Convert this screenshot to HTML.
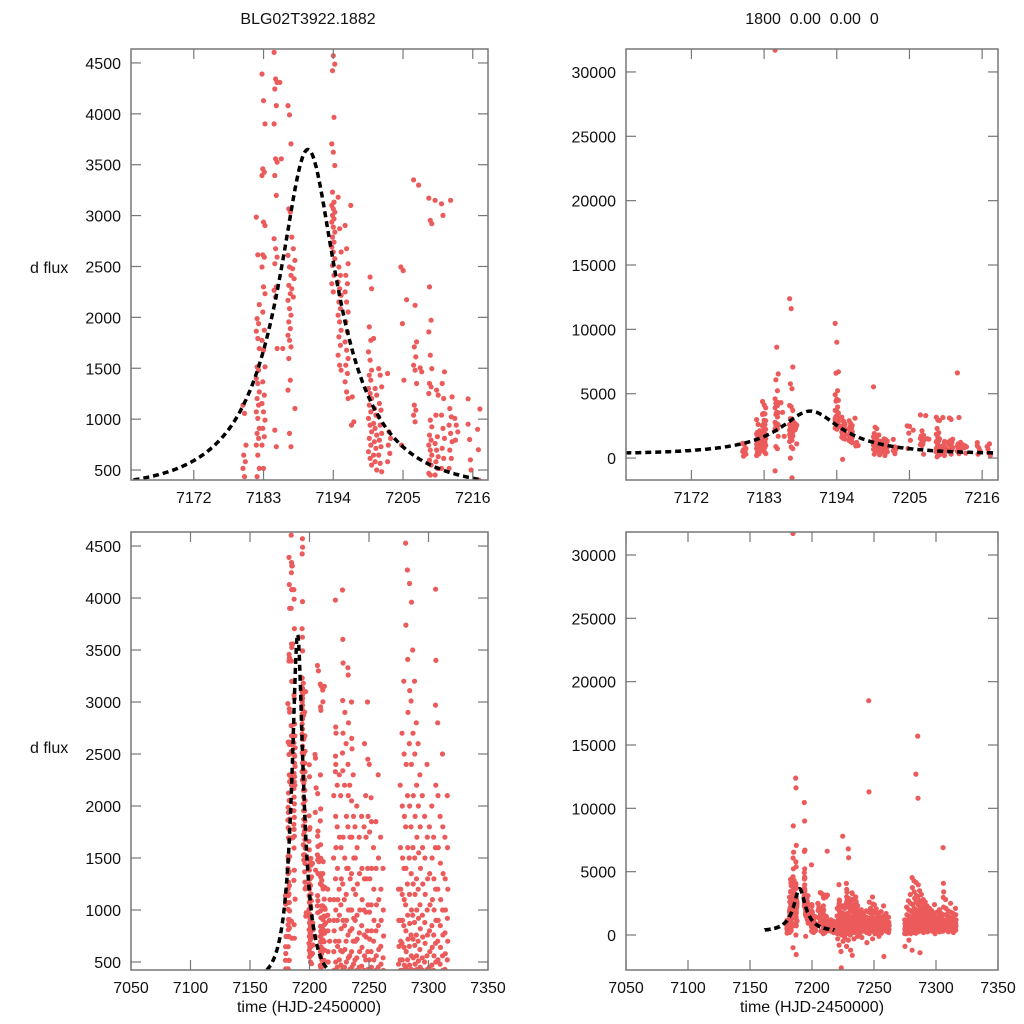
<!DOCTYPE html>
<html><head><meta charset="utf-8"><style>
html,body{margin:0;padding:0;background:#fff;width:1024px;height:1024px;overflow:hidden;}
svg{display:block;font-family:"Liberation Sans",sans-serif;}
</style></head><body>
<svg id="chart" width="1024" height="1024" viewBox="0 0 1024 1024"></svg>
<script>
// ---- data ----
const nightTimes = [
7180.0,7182.1,7183.0,7184.9,7185.8,7187.1,7187.7,7194.0,7195.0,7196.1,7197.0,7199.8,7200.6,7201.4,7202.8,7204.9,7205.8,7206.9,7207.7,7209.3,7210.3,7211.3,7212.5,7213.4,7215.5,7217.0,
7220.5,7222,7223.5,7225,7226.5,7228,7229.5,7231,7232.5,7234,7235.5,7237,7238.5,7240,7242,7244,7246,7247.5,7249,7250.5,7252,7254,7256,7258,7260,7262,
7275,7276.5,7278,7279.5,7281,7282.5,7284,7285.5,7287,7288.5,7290,7291.5,7293,7295,7297,7299,7301,7303,7304.5,7306,7308,7310,7312,7314,7316];
const nightFluxes = [
[1138,1056,745,647,582,516,435,300,150],
[2985,2615,2125,1988,1939,1864,1792,1694,1514,1481,1399,1350,1268,1203,1138,1072,1007,909,860,811,745,647,516,435,320,200],
[4391,4129,3901,3459,3427,3394,2936,2903,2615,2592,2495,2299,2233,2053,1874,1775,1677,1514,1367,1236,1154,1072,991,909,827,745,516,350],
[31700,8615,6538,6077,5230,4604,4342,4309,4244,4081,3901,3558,3525,3394,3198,2773,2675,2592,2527,2299,2266,2200,1694,892,729,-1000],
[4309,3558,1694],
[12385,11615,7077,5770,5385,4081,3989,3705,3067,3034,2609,2495,2413,2315,2233,2168,2086,2021,1955,1890,1824,1775,1710,1596,1383,1285,860,729,0,-1540],
[2789,2675,2560,2478,2380,2282,2200,1105],
[10460,9000,6700,6600,5230,4920,4571,4489,4424,3966,3705,3623,3492,3231,3133,3100,3067,3034,3002,2969,2936,2887,2838,2789,2740,2691,2642,2576,2511,2413,2331,2250],
[3181,2871,2642,2495,2413,2348,2282,2217,2151,2086,2021,1955,1873,1808,1726,1628,1530,1481,-100],
[2903,2675,2527,2413,2331,2250,2151,2053,1955,1857,1759,1677,1596,1530,1448,1367,1268,1203],
[3100,1219,974,941],
[5540,2397,2282,1906,1775,1661,1579,1481,1432,1383,1301,1252,1203,1138,1072,1007,941,876,811,745,680,614,549,300],
[1792,1301,1236,1105,1040,958,909,843,778,713,647,582,500,250],
[1497,1432,1318,1154,1089,1023,941,860,794,729,647,565,484,200],
[1448,876,811,745,663,582,350],
[2495,1939,1383,745,2460],
[2174],
[3351,2119,1759,1710,1612,1530,1481,1350,1138,1089,1040,974,300],
[3300,1504,1465],
[3172,2953,2920,2299,1972,1857,1628,1497,1350,1318,1252,991,925,843,794,745,696,647,598,549,467,451,250,100],
[3150,1285,1236,1040,827,761,696,631,582,516,451,200],
[3116,3002,1465,1350,1203,1040,909,811,713,614,516,300],
[6615,3150,1219,1105,1023,941,860,778,696,614,516,350],
[1007,941,876,794,380],
[1200,800,500,300,600,950],
[900,400,200,700,1100],
[1500,1100,800,600,420,300,100,-300,2100,900],
[3980,2760,2700,2480,2400,2330,1900,1600,1300,1000,700,500,200,-800],
[1800,1400,1100,900,650,450,300,0,-1300,-2600,2200],
[7800,2300,1700,1200,950,700,520,400,150,-500],
[2100,1600,1300,1050,820,610,470,250,-200],
[4077,3602,3375,3015,2700,2510,2340,1700,1250,900,600,430,100,-900],
[6800,6100,2900,2200,1500,1100,850,620,450,200,-400],
[2600,1900,1400,1150,900,700,500,350,0,-1200],
[3330,3260,2800,2400,2100,1800,1400,1000,760,540,410,-1600],
[2200,1700,1300,1000,800,560,430,200,-300],
[3000,2650,2550,2050,1700,1350,1000,820,600,450,250],
[2300,1900,1500,1200,920,700,480,300,-100],
[1800,1500,1150,900,700,520,410,150],
[2000,1600,1250,950,720,540,420,-200],
[1700,1350,1000,780,600,450,300],
[1900,1400,1100,850,640,460,200,-600],
[18500,11300,2600,1800,1300,1000,760,560,420,100],
[2100,1700,1300,980,740,520,300],
[3000,2450,1900,1400,1050,800,600,430,-300],
[2400,1750,1300,980,720,520,410,100],
[2080,1850,1400,1050,800,600,450,250],
[1600,1200,900,700,520,410,-100],
[1850,1400,1050,800,560,420,150],
[2300,1500,1100,850,620,450,-1700],
[1700,1200,900,650,480,300],
[1400,1000,750,540,420,200],
[1200,900,650,480,300,100,-900],
[2200,1600,1200,900,700,520,420,300,100],
[2700,2000,1500,1150,900,680,520,420,250,-400],
[3200,2500,1900,1400,1100,850,640,470,350,100],
[4528,3740,2400,1800,1400,1050,800,600,450,200,-1200],
[4270,3410,2900,2100,1600,1250,950,720,520,420,300],
[12700,4140,3110,2600,2000,1500,1150,870,650,470,150],
[15700,10800,3960,3010,2400,1800,1350,1000,760,560,430,250],
[3500,2700,2100,1600,1250,950,720,540,420,-1400],
[3200,2500,1900,1500,1150,880,660,480,300],
[2800,2200,1700,1300,1000,760,560,430,200],
[2600,2000,1550,1200,920,700,510,400],
[2300,1800,1400,1050,820,620,450,250],
[2100,1600,1250,950,740,540,420],
[1900,1500,1150,880,680,500,300],
[2400,1700,1300,1000,760,560,430,100],
[1800,1350,1050,800,600,450],
[2000,1500,1100,850,640,470,250],
[1700,1300,1000,760,560,420],
[6900,4085,3400,2970,2200,1600,1200,900,680,500,300],
[2800,2100,1600,1200,900,700,520,400],
[1900,1450,1100,850,640,480,250],
[2500,1800,1350,1000,760,560,420],
[1700,1300,1000,780,580,430,200],
[2100,1600,1200,920,700,520,380],
[1850,1400,1050,800,600,450,300],
[1500,1150,880,660,480,250]
];
const fitT0 = 7190.0, fitU0 = 0.3, fitTE = 15.0, fitFs = 1370, fitBase = 300;
const fitRange = [7162, 7218];
const xTicksZoom = [7172,7183,7194,7205,7216];
const xTicksFull = [7050,7100,7150,7200,7250,7300,7350];
const yTicksSmall = [500,1000,1500,2000,2500,3000,3500,4000,4500];
const yTicksBig = [0,5000,10000,15000,20000,25000,30000];

// ---- panel setup ----
const NS = "http://www.w3.org/2000/svg";
const svg = document.getElementById("chart");
function mk(tag, attrs, parent){const e=document.createElementNS(NS,tag);for(const k in attrs)e.setAttribute(k,attrs[k]);(parent||svg).appendChild(e);return e;}

const panels = [
 {id:"top-left", x0:131,x1:488,y0:49,y1:480, xd:[7162.1,7218.4], yd:[402,4637], xt:xTicksZoom, yt:yTicksSmall},
 {id:"top-right", x0:626,x1:998,y0:49,y1:480, xd:[7162.1,7218.4], yd:[-1705,31783], xt:xTicksZoom, yt:yTicksBig},
 {id:"bottom-left", x0:131,x1:488,y0:532,y1:970, xd:[7050,7350], yd:[423,4635], xt:xTicksFull, yt:yTicksSmall},
 {id:"bottom-right", x0:626,x1:998,y0:532,y1:970, xd:[7050,7350], yd:[-2763,31815], xt:xTicksFull, yt:yTicksBig}
];

function magnification(t){
  const tau=(t-fitT0)/fitTE; const u=Math.sqrt(fitU0*fitU0+tau*tau);
  return (u*u+2)/(u*Math.sqrt(u*u+4));
}

panels.forEach((p,pi)=>{
  const sx=v=>p.x0+(v-p.xd[0])/(p.xd[1]-p.xd[0])*(p.x1-p.x0);
  const sy=v=>p.y1-(v-p.yd[0])/(p.yd[1]-p.yd[0])*(p.y1-p.y0);
  const g=mk("g",{});
  
  
  const defs=mk("defs",{},g);
  const cp=mk("clipPath",{id:"clip"+pi},defs);
  mk("rect",{x:p.x0,y:p.y0,width:p.x1-p.x0,height:p.y1-p.y0},cp);
  const pts=mk("g",{"clip-path":"url(#clip"+pi+")",fill:"#ec5b5b"},g);
  
  
  const ylo=p.yd[0]-(p.yd[1]-p.yd[0])*0.01, yhi=p.yd[1]+(p.yd[1]-p.yd[0])*0.01;
  nightTimes.forEach((t,i)=>{
    if(t<p.xd[0]||t>p.xd[1]) return;
    nightFluxes[i].forEach((f,j)=>{
      if(f<ylo||f>yhi) return;
      const jit=((j*7)%5-2)*0.12;
      const c=mk("circle",{cx:sx(t+jit).toFixed(1),cy:sy(f).toFixed(1),r:2.6},pts);
      
      
    });
  });
  let d="";
  for(let t=fitRange[0];t<=fitRange[1];t+=0.1){
    const f=fitBase+fitFs*(magnification(t)-1);
    if(f<p.yd[0]) continue;
    d+=(d?"L":"M")+sx(t).toFixed(1)+","+sy(f).toFixed(1);
  }
  const curve=mk("path",{d:d,fill:"none",stroke:"#000","stroke-width":3.5,"stroke-dasharray":"6,4","clip-path":"url(#clip"+pi+")"},g);
  
  
  const frame=mk("rect",{x:p.x0,y:p.y0,width:p.x1-p.x0,height:p.y1-p.y0,fill:"none",stroke:"#777","stroke-width":1.5},g);
  
  
  p.xt.forEach(v=>{
    const x=sx(v);
    mk("line",{x1:x,x2:x,y1:p.y1,y2:p.y1-10,stroke:"#777","stroke-width":1.2},g);
    mk("line",{x1:x,x2:x,y1:p.y0,y2:p.y0+10,stroke:"#777","stroke-width":1.2},g);
    const tx=mk("text",{x:x,y:p.y1+23,"font-size":16,"text-anchor":"middle",fill:"#111"},g);
    tx.textContent=v;
    
    
  });
  p.yt.forEach(v=>{
    const y=sy(v);
    mk("line",{x1:p.x0,x2:p.x0+10,y1:y,y2:y,stroke:"#777","stroke-width":1.2},g);
    mk("line",{x1:p.x1,x2:p.x1-10,y1:y,y2:y,stroke:"#777","stroke-width":1.2},g);
    const ty=mk("text",{x:p.x0-10,y:y+6,"font-size":16,"text-anchor":"end",fill:"#111"},g);
    ty.textContent=v;
    
    
  });
});
</script>
<div style="position:absolute;left:0;top:0;width:1024px;height:1024px;overflow:hidden;pointer-events:none;font-family:'Liberation Sans',sans-serif;font-size:16px;color:#111;">
  <div style="position:absolute;left:208px;width:200px;top:11px;text-align:center;">BLG02T3922.1882</div>
  <div style="position:absolute;left:712px;width:200px;top:11px;text-align:center;white-space:pre;">1800  0.00  0.00  0</div>
  <div style="position:absolute;left:30px;top:260px;">d flux</div>
  <div style="position:absolute;left:30px;top:740px;">d flux</div>
  <div style="position:absolute;left:159px;width:300px;top:999px;text-align:center;">time (HJD-2450000)</div>
  <div style="position:absolute;left:662px;width:300px;top:999px;text-align:center;">time (HJD-2450000)</div>
</div>
</body></html>
